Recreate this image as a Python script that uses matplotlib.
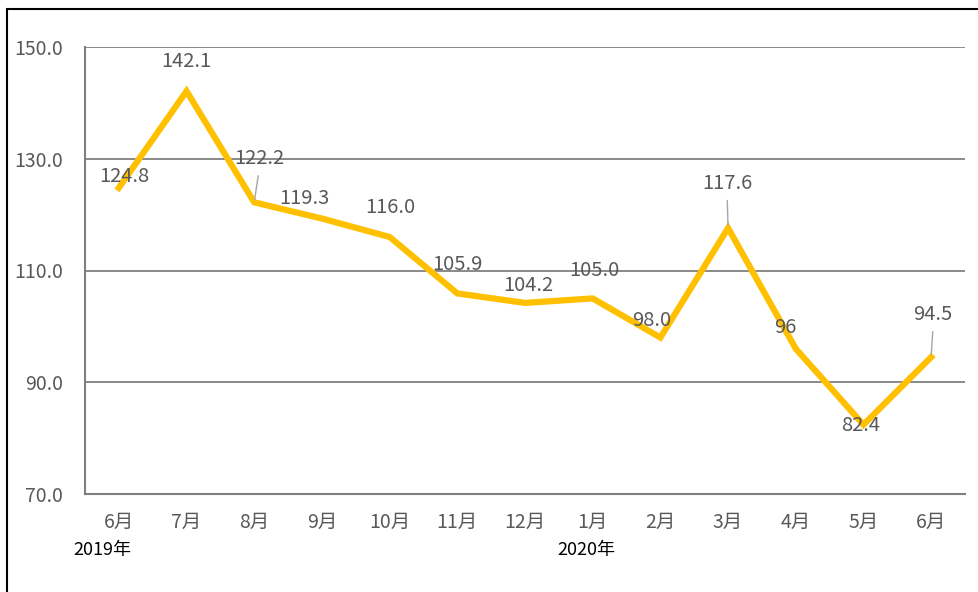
import matplotlib.pyplot as plt
from matplotlib.patches import Rectangle

plt.rcParams['font.family'] = ['Noto Sans CJK SC', 'DejaVu Sans']

# Data
months = ['6月', '7月', '8月', '9月', '10月', '11月', '12月',
          '1月', '2月', '3月', '4月', '5月', '6月']
values = [124.8, 142.1, 122.2, 119.3, 116.0, 105.9, 104.2,
          105.0, 98.0, 117.6, 96, 82.4, 94.5]
value_labels = ['124.8', '142.1', '122.2', '119.3', '116.0', '105.9', '104.2',
                '105.0', '98.0', '117.6', '96', '82.4', '94.5']
year_labels = ['2019年', '2020年']
year_positions = [0, 7]
year_dx = [-17, -6]

# label offsets in pixels (dx, dy) and whether a leader line is drawn
label_offsets = [(5, 11), (0, 30), (5, 44), (-18, 20), (1, 29), (0, 29), (3, 17),
                 (2, 28), (-9, 17), (-1, 45), (-10, 21), (-3, -1), (2, 43)]
leaders = [False, False, True, False, False, False, False,
           False, False, True, False, False, True]

text_color = '#595959'
grid_color = '#808080'

fig = plt.figure(figsize=(9.79, 5.92), dpi=100)
ax = fig.add_axes([85 / 979, 98 / 592, 880 / 979, 447 / 592])

x = list(range(len(months)))
ax.plot(x, values, color='#FFC000', linewidth=4.5, solid_joinstyle='miter', zorder=3)

ax.set_xlim(-0.5, len(months) - 0.5)
ax.set_ylim(70, 150)
ax.set_yticks([70, 90, 110, 130, 150])
ax.set_yticklabels([f'{v:.1f}' for v in [70, 90, 110, 130, 150]])
ax.set_xticks(x)
ax.set_xticklabels(months)
ax.tick_params(axis='both', length=0, colors=text_color, labelsize=14)
ax.tick_params(axis='y', pad=16)
ax.tick_params(axis='x', pad=13)
ax.yaxis.grid(True, color=grid_color, linewidth=1.3)
ax.set_axisbelow(True)
for s in ['top', 'right']:
    ax.spines[s].set_visible(False)
for s in ['left', 'bottom']:
    ax.spines[s].set_color(grid_color)
    ax.spines[s].set_linewidth(1.5)

for i, (v, lab) in enumerate(zip(values, value_labels)):
    dx, dy = label_offsets[i]
    if leaders[i]:
        ax.annotate(lab, (i, v), xytext=(dx, dy), textcoords='offset pixels',
                    ha='center', va='center', fontsize=14.5, color=text_color,
                    arrowprops=dict(arrowstyle='-', color='#a6a6a6', lw=1,
                                    relpos=(0.5, 0.0), shrinkA=3, shrinkB=2),
                    zorder=4)
    else:
        ax.annotate(lab, (i, v), xytext=(dx, dy), textcoords='offset pixels',
                    ha='center', va='center', fontsize=14.5, color=text_color, zorder=4)

# year labels under the month ticks
for pos, lab, dx in zip(year_positions, year_labels, year_dx):
    ax.annotate(lab, (pos, 70), xytext=(dx, -56), textcoords='offset pixels',
                xycoords='data', ha='center', va='center', fontsize=13,
                color='black', annotation_clip=False)

# outer frame
fig.patches.append(Rectangle((7 / 979, -0.1), 1.2, (592 - 9) / 592 + 0.1,
                             transform=fig.transFigure, fill=False,
                             edgecolor='black', linewidth=1.5))

fig.savefig('out.png', dpi=100)
